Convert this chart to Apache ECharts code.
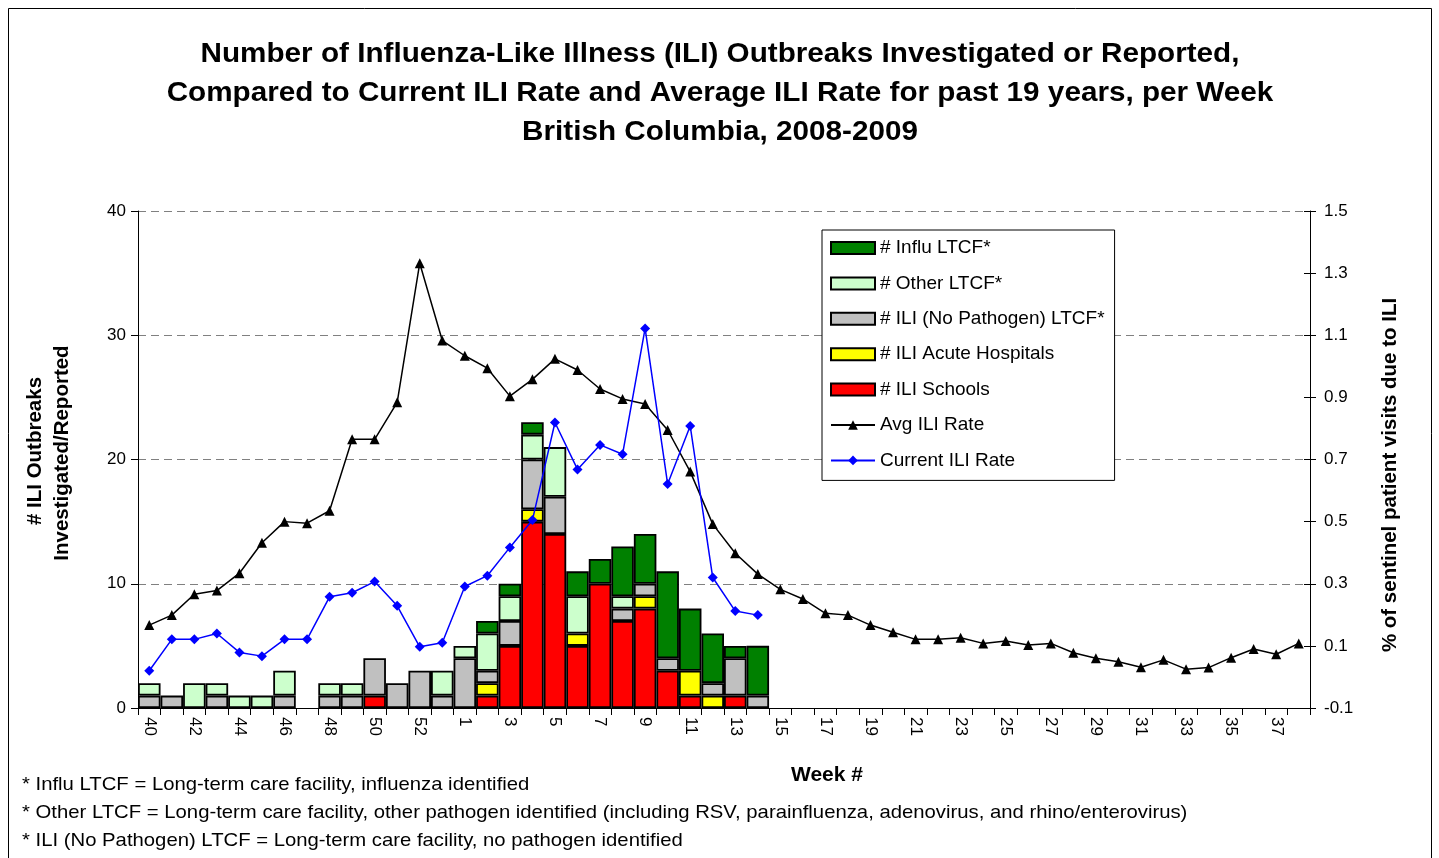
<!DOCTYPE html>
<html>
<head>
<meta charset="utf-8">
<script src="https://cdn.jsdelivr.net/npm/echarts@6/dist/echarts.min.js"></script>
<style>
html,body{margin:0;padding:0;background:#fff;}
#chart{width:1439px;height:858px;}
</style>
</head>
<body>
<div id="chart"></div>
<script>
const weeks = ['40','41','42','43','44','45','46','47','48','49','50','51','52','53',
  '1','2','3','4','5','6','7','8','9','10','11','12','13','14','15','16','17','18','19',
  '20','21','22','23','24','25','26','27','28','29','30','31','32','33','34','35','36','37','38'];

const iliSchools   = [0,0,0,0,0,0,0,0,0,0,1,0,0,0,0,1,5,15,14,5,10,7,8,3,1,0,1,0];
const iliAcute     = [0,0,0,0,0,0,0,0,0,0,0,0,0,0,0,1,0,1,0,1,0,0,1,0,2,1,0,0];
const iliNoPathLTCF= [1,1,0,1,0,0,1,0,1,1,3,2,3,1,4,1,2,4,3,0,0,1,1,1,0,1,3,1];
const otherLTCF    = [1,0,2,1,1,1,2,0,1,1,0,0,0,2,1,3,2,2,4,3,0,1,0,0,0,0,0,0];
const influLTCF    = [0,0,0,0,0,0,0,0,0,0,0,0,0,0,0,1,1,1,0,2,2,4,4,7,5,4,1,4];

const avgIliRate = [0.167,0.199,0.266,0.278,0.334,0.432,0.500,0.495,0.535,0.765,0.765,0.884,1.332,1.083,
  1.034,0.994,0.904,0.958,1.024,0.988,0.927,0.895,0.879,0.795,0.661,0.492,0.398,0.331,0.282,0.251,
  0.205,0.199,0.167,0.144,0.121,0.121,0.126,0.108,0.116,0.103,0.108,0.078,0.060,0.049,0.031,0.055,
  0.025,0.030,0.062,0.090,0.073,0.108];
const currentIliRate = [0.020,0.121,0.121,0.140,0.079,0.067,0.121,0.121,0.258,0.271,0.307,0.229,0.097,0.110,
  0.291,0.326,0.417,0.505,0.819,0.668,0.747,0.717,1.122,0.621,0.808,0.320,0.212,0.199];

const leftTicks = {min:0, max:40, interval:10};
const rightTicks = {min:-0.1, max:1.5, interval:0.2};

const titleLines = [
  'Number of Influenza-Like Illness (ILI) Outbreaks Investigated or Reported,',
  'Compared to Current ILI Rate and Average ILI Rate for past 19 years, per Week',
  'British Columbia, 2008-2009'
];
const footnotes = [
  '* Influ LTCF = Long-term care facility, influenza identified',
  '* Other LTCF = Long-term care facility, other pathogen identified (including RSV, parainfluenza, adenovirus, and rhino/enterovirus)',
  '* ILI (No Pathogen) LTCF = Long-term care facility, no pathogen identified'
];

const FONT = '"Liberation Sans", Arial, sans-serif';
const chart = echarts.init(document.getElementById('chart'), null, {renderer:'canvas'});

function nz(arr){ return weeks.map((w,i)=> (arr[i] ? arr[i] : null)); }

function barSeries(name, data, color){
  return {
    name: name, type:'bar', stack:'out', yAxisIndex:0,
    data: nz(data), barCategoryGap:'0%',
    itemStyle:{color:color, borderColor:'#000', borderWidth:1.8},
    emphasis:{disabled:true}
  };
}

const graphics = [
  {type:'rect', shape:{x:8.5, y:8.5, width:1423, height:870}, style:{fill:null, stroke:'#000', lineWidth:1}, silent:true, z:-10},
  {type:'text', x:35, y:451, rotation:Math.PI/2,
   style:{text:'# ILI Outbreaks', font:'bold 20.5px '+FONT, fill:'#000', align:'center', verticalAlign:'middle'}},
  {type:'text', x:62, y:453, rotation:Math.PI/2,
   style:{text:'Investigated/Reported', font:'bold 20.5px '+FONT, fill:'#000', align:'center', verticalAlign:'middle'}},
  {type:'text', x:1390, y:475, rotation:Math.PI/2,
   style:{text:'% of sentinel patient visits due to ILI', font:'bold 20.5px '+FONT, fill:'#000', align:'center', verticalAlign:'middle'}},
  {type:'text', x:827, y:775,
   style:{text:'Week #', font:'bold 21px '+FONT, fill:'#000', align:'center', verticalAlign:'middle'}}
];
titleLines.forEach((t,i)=>{
  graphics.push({type:'text', x:720, y:54+i*39, scaleX:1.06,
    style:{text:t, font:'bold 28px '+FONT, fill:'#000', align:'center', verticalAlign:'middle'}});
});
footnotes.forEach((t,i)=>{
  graphics.push({type:'text', x:22, y:785+i*28, scaleX:1.068,
    style:{text:t, font:'19px '+FONT, fill:'#000', align:'left', verticalAlign:'middle'}});
});

const option = {
  animation:false,
  backgroundColor:'#fff',
  textStyle:{fontFamily:FONT},
  grid:{left:138, right:129, top:211, bottom:150, containLabel:false},
  legend:{
    orient:'vertical', left:822, top:230,
    data:[
      {name:'# Influ LTCF*', icon:'rect'},
      {name:'# Other LTCF*', icon:'rect'},
      {name:'# ILI (No Pathogen) LTCF*', icon:'rect'},
      {name:'# ILI Acute Hospitals', icon:'rect'},
      {name:'# ILI Schools', icon:'rect'},
      {name:'Avg ILI Rate'},
      {name:'Current ILI Rate'}
    ],
    itemWidth:44, itemHeight:12, itemGap:15.4,
    padding:[8,10,10,8],
    backgroundColor:'#fff', borderColor:'#000', borderWidth:1,
    textStyle:{fontFamily:FONT, fontSize:19, color:'#000', lineHeight:20},
    selectedMode:false
  },
  xAxis:{
    type:'category', data:weeks,
    axisLine:{lineStyle:{color:'#000', width:1}},
    axisTick:{show:true, interval:0, length:7, lineStyle:{color:'#000'}},
    axisLabel:{interval:1, rotate:-90, margin:9, fontSize:17, color:'#000', fontFamily:FONT},
    splitLine:{show:false}
  },
  yAxis:[
    {type:'value', min:leftTicks.min, max:leftTicks.max, interval:leftTicks.interval, position:'left',
     axisLine:{show:true, lineStyle:{color:'#000'}},
     axisTick:{show:true, length:7, lineStyle:{color:'#000'}},
     axisLabel:{fontSize:17, color:'#000', margin:12, fontFamily:FONT},
     splitLine:{show:true, lineStyle:{color:'#808080', type:[8,5], width:1}}},
    {type:'value', min:rightTicks.min, max:rightTicks.max, interval:rightTicks.interval, position:'right',
     axisLine:{show:true, lineStyle:{color:'#000'}},
     axisTick:{show:true, length:6, lineStyle:{color:'#000'}},
     axisLabel:{fontSize:17, color:'#000', margin:14, fontFamily:FONT, formatter:v=>v.toFixed(1)},
     splitLine:{show:false}},
    {type:'value', min:rightTicks.min, max:rightTicks.max, interval:rightTicks.interval, position:'right',
     axisLine:{show:false},
     axisTick:{show:true, inside:true, length:6, lineStyle:{color:'#000'}},
     axisLabel:{show:false},
     splitLine:{show:false}}
  ],
  series:[
    barSeries('# ILI Schools', iliSchools, '#FF0000'),
    barSeries('# ILI Acute Hospitals', iliAcute, '#FFFF00'),
    barSeries('# ILI (No Pathogen) LTCF*', iliNoPathLTCF, '#C0C0C0'),
    barSeries('# Other LTCF*', otherLTCF, '#CCFFCC'),
    barSeries('# Influ LTCF*', influLTCF, '#008000'),
    {name:'Avg ILI Rate', type:'line', yAxisIndex:1, data:avgIliRate,
     symbol:'triangle', symbolSize:10, showAllSymbol:true,
     lineStyle:{color:'#000', width:1.5}, itemStyle:{color:'#000'}, z:5, emphasis:{disabled:true}},
    {name:'Current ILI Rate', type:'line', yAxisIndex:1, data:currentIliRate,
     symbol:'diamond', symbolSize:10, showAllSymbol:true,
     lineStyle:{color:'#0000FF', width:1.5}, itemStyle:{color:'#0000FF'}, z:6, emphasis:{disabled:true}}
  ],
  graphic: graphics
};
chart.setOption(option);
</script>
</body>
</html>
